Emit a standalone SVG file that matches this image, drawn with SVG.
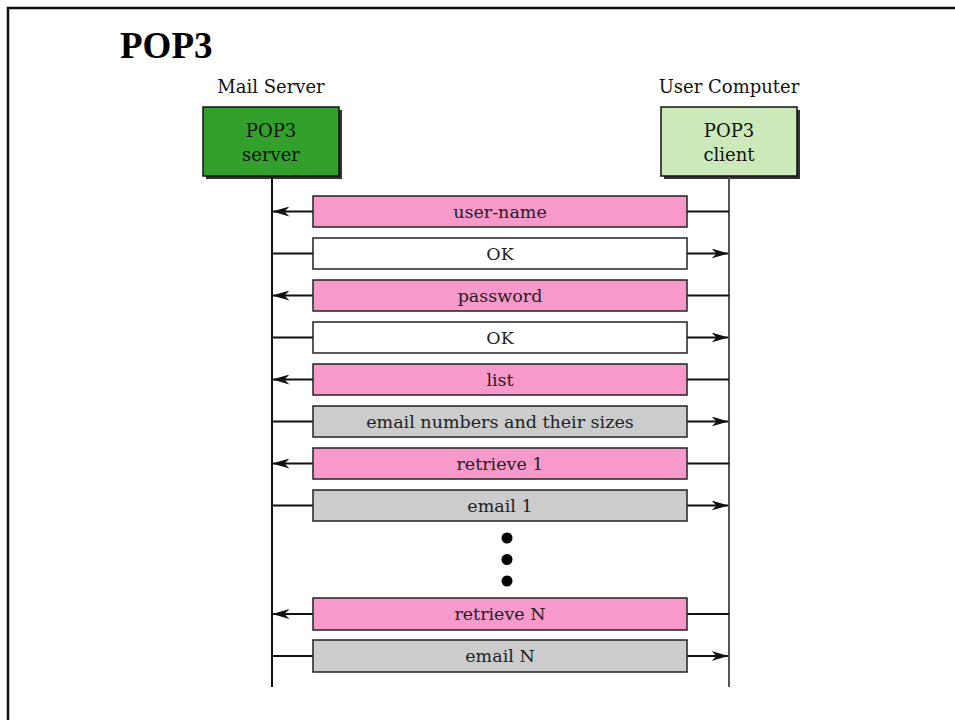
<svg xmlns="http://www.w3.org/2000/svg" width="955" height="720" viewBox="0 0 955 720">
<style>
.lbl{font-family:"DejaVu Serif","Liberation Serif",serif;font-size:18px;fill:#111;text-anchor:middle}
.msg{font-family:"DejaVu Serif","Liberation Serif",serif;font-size:17.5px;fill:#222;text-anchor:middle}
.title{font-family:"Liberation Serif","Times New Roman",serif;font-size:37px;font-weight:bold;fill:#000}
.box{stroke:#111;stroke-width:1.5}
.shadow{fill:#333}
.mb{stroke:#222;stroke-width:1.5}
.pink{fill:#f799cb}
.gray{fill:#cccccc}
.white{fill:#ffffff}
.ln{stroke:#111;stroke-width:2;fill:none}
</style>
<defs>
<marker id="ah" viewBox="0 0 17 10" refX="16.5" refY="5" markerWidth="17" markerHeight="10" markerUnits="userSpaceOnUse" orient="auto">
<path d="M0,0 L17,5 L0,10 L5,5 Z" fill="#111"/>
</marker>
</defs>
<rect x="0" y="0" width="955" height="720" fill="#fff"/>
<path d="M8,720 L8,8 L955,8" fill="none" stroke="#111" stroke-width="2.5"/>
<text class="title" x="120" y="58">POP3</text>

<g id="server">
<text class="lbl" x="271" y="93">Mail Server</text>
<rect class="shadow" x="206" y="110" width="136" height="69"/>
<rect class="box" x="203" y="107" width="136" height="69" fill="#33a02c"/>
<text class="lbl" x="271" y="137">POP3</text>
<text class="lbl" x="271" y="161">server</text>
</g>
<g id="client">
<text class="lbl" x="729" y="93">User Computer</text>
<rect class="shadow" x="664" y="110" width="136" height="69"/>
<rect class="box" x="661" y="107" width="136" height="69" fill="#cce9b9"/>
<text class="lbl" x="729" y="137">POP3</text>
<text class="lbl" x="729" y="161">client</text>
</g>

<g id="connectors">
<line x1="272" y1="177" x2="272" y2="687" stroke="#111" stroke-width="2"/>
<line x1="729" y1="177" x2="729" y2="687" stroke="#555" stroke-width="2"/>
<line class="ln" x1="313" y1="211.5" x2="273" y2="211.5" marker-end="url(#ah)"/>
<line class="ln" x1="687" y1="211.5" x2="729" y2="211.5"/>
<line class="ln" x1="272" y1="253.5" x2="313" y2="253.5"/>
<line class="ln" x1="687" y1="253.5" x2="728" y2="253.5" marker-end="url(#ah)"/>
<line class="ln" x1="313" y1="295.5" x2="273" y2="295.5" marker-end="url(#ah)"/>
<line class="ln" x1="687" y1="295.5" x2="729" y2="295.5"/>
<line class="ln" x1="272" y1="337.5" x2="313" y2="337.5"/>
<line class="ln" x1="687" y1="337.5" x2="728" y2="337.5" marker-end="url(#ah)"/>
<line class="ln" x1="313" y1="379.5" x2="273" y2="379.5" marker-end="url(#ah)"/>
<line class="ln" x1="687" y1="379.5" x2="729" y2="379.5"/>
<line class="ln" x1="272" y1="421.5" x2="313" y2="421.5"/>
<line class="ln" x1="687" y1="421.5" x2="728" y2="421.5" marker-end="url(#ah)"/>
<line class="ln" x1="313" y1="463.5" x2="273" y2="463.5" marker-end="url(#ah)"/>
<line class="ln" x1="687" y1="463.5" x2="729" y2="463.5"/>
<line class="ln" x1="272" y1="505.5" x2="313" y2="505.5"/>
<line class="ln" x1="687" y1="505.5" x2="728" y2="505.5" marker-end="url(#ah)"/>
<line class="ln" x1="313" y1="614" x2="273" y2="614" marker-end="url(#ah)"/>
<line class="ln" x1="687" y1="614" x2="729" y2="614"/>
<line class="ln" x1="272" y1="656" x2="313" y2="656"/>
<line class="ln" x1="687" y1="656" x2="728" y2="656" marker-end="url(#ah)"/>
</g>

<g id="m1"><rect class="mb pink" x="313" y="196" width="374" height="31"/><text class="msg" x="500" y="217.5">user-name</text></g>
<g id="m2"><rect class="mb white" x="313" y="238" width="374" height="31"/><text class="msg" x="500" y="259.5">OK</text></g>
<g id="m3"><rect class="mb pink" x="313" y="280" width="374" height="31"/><text class="msg" x="500" y="301.5">password</text></g>
<g id="m4"><rect class="mb white" x="313" y="322" width="374" height="31"/><text class="msg" x="500" y="343.5">OK</text></g>
<g id="m5"><rect class="mb pink" x="313" y="364" width="374" height="31"/><text class="msg" x="500" y="385.5">list</text></g>
<g id="m6"><rect class="mb gray" x="313" y="406" width="374" height="31"/><text class="msg" x="500" y="427.5">email numbers and their sizes</text></g>
<g id="m7"><rect class="mb pink" x="313" y="448" width="374" height="31"/><text class="msg" x="500" y="469.5">retrieve 1</text></g>
<g id="m8"><rect class="mb gray" x="313" y="490" width="374" height="31"/><text class="msg" x="500" y="511.5">email 1</text></g>
<g id="dots" fill="#000">
<circle cx="507" cy="538" r="5.5"/>
<circle cx="507" cy="559.5" r="5.5"/>
<circle cx="507" cy="581" r="5.5"/>
</g>
<g id="m9"><rect class="mb pink" x="313" y="598" width="374" height="32"/><text class="msg" x="500" y="620">retrieve N</text></g>
<g id="m10"><rect class="mb gray" x="313" y="640" width="374" height="32"/><text class="msg" x="500" y="662">email N</text></g>
</svg>
